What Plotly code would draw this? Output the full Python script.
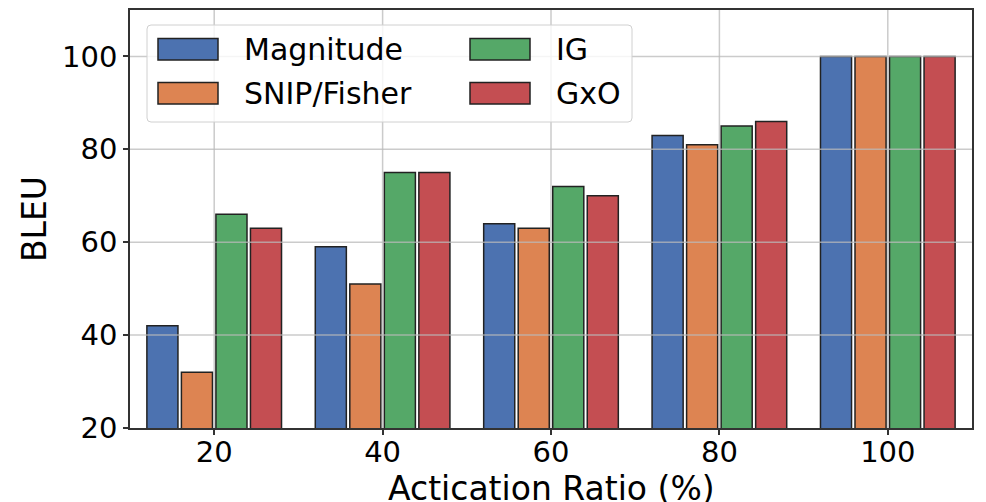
import plotly.graph_objects as go

# ---- data ----
categories = ["20", "40", "60", "80", "100"]
series_names = ["Magnitude", "SNIP/Fisher", "IG", "GxO"]
magnitude = [42, 59, 64, 83, 100]
snip_fisher = [32, 51, 63, 81, 100]
ig = [66, 75, 72, 85, 100]
gxo = [63, 75, 70, 86, 100]
y_ticks = [20, 40, 60, 80, 100]
colors = ["#4C72B0", "#DD8452", "#55A868", "#C44E52"]
x_title = "Actication Ratio (%)"
y_title = "BLEU"

series_values = [magnitude, snip_fisher, ig, gxo]

W, H = 986, 502
ML, MR, MT, MB = 130, 14, 10, 74
PW, PH = W - ML - MR, H - MT - MB
Y_RANGE = [20, 110]
FONT = "DejaVu Sans"


def px_x(p):
    return (p - ML) / PW


def px_y(p):
    return (H - MB - p) / PH


fig = go.Figure()
for name, vals, col in zip(series_names, series_values, colors):
    fig.add_trace(go.Bar(
        x=categories, y=vals, name=name, showlegend=False,
        marker=dict(color=col, line=dict(color="#222222", width=1.5)),
    ))

shapes = []
# gridlines drawn above the bars (matplotlib style)
grid_col = "rgba(185,185,185,0.75)"
for t in y_ticks:
    if Y_RANGE[0] < t < Y_RANGE[1]:
        shapes.append(dict(type="line", xref="paper", yref="y", x0=0, x1=1, y0=t, y1=t,
                           line=dict(color=grid_col, width=1.5), layer="above"))
for i, _ in enumerate(categories):
    shapes.append(dict(type="line", xref="x", yref="paper", x0=i, x1=i, y0=0, y1=1,
                       line=dict(color=grid_col, width=1.5), layer="above"))

# legend box (rounded)
bx0, bx1, by0, by1, r = 147, 632, 25, 122, 4
path = (f"M {px_x(bx0 + r)},{px_y(by0)} L {px_x(bx1 - r)},{px_y(by0)} "
        f"Q {px_x(bx1)},{px_y(by0)} {px_x(bx1)},{px_y(by0 + r)} "
        f"L {px_x(bx1)},{px_y(by1 - r)} Q {px_x(bx1)},{px_y(by1)} {px_x(bx1 - r)},{px_y(by1)} "
        f"L {px_x(bx0 + r)},{px_y(by1)} Q {px_x(bx0)},{px_y(by1)} {px_x(bx0)},{px_y(by1 - r)} "
        f"L {px_x(bx0)},{px_y(by0 + r)} Q {px_x(bx0)},{px_y(by0)} {px_x(bx0 + r)},{px_y(by0)} Z")
shapes.append(dict(type="path", xref="paper", yref="paper", path=path,
                   fillcolor="rgba(255,255,255,0.8)", line=dict(color="#d0d0d0", width=1),
                   layer="above"))

annotations = []
# legend entries: column-major, 2 columns
col_sw_x = [158, 470]
col_tx_x = [242, 554]
row_y = [(38.5, 60), (82.5, 104)]
for k, (name, col) in enumerate(zip(series_names, colors)):
    c, rr = divmod(k, 2)
    y0p, y1p = row_y[rr]
    shapes.append(dict(type="rect", xref="paper", yref="paper",
                       x0=px_x(col_sw_x[c]), x1=px_x(col_sw_x[c] + 60),
                       y0=px_y(y1p), y1=px_y(y0p),
                       fillcolor=col, line=dict(color="#222222", width=1.5), layer="above"))
    annotations.append(dict(text=name, xref="paper", yref="paper",
                            x=px_x(col_tx_x[c]), y=px_y((y0p + y1p) / 2),
                            xanchor="left", yanchor="middle", showarrow=False,
                            font=dict(family=FONT, size=30, color="black")))

# x-axis title (placed to match the reference, which is clipped at the bottom edge)
annotations.append(dict(text=x_title, xref="paper", yref="paper", x=0.5, y=px_y(488),
                        xanchor="center", yanchor="middle", showarrow=False,
                        font=dict(family=FONT, size=33, color="black")))

fig.update_layout(
    width=W, height=H,
    margin=dict(l=ML, r=MR, t=MT, b=MB, autoexpand=False),
    paper_bgcolor="white", plot_bgcolor="white",
    barmode="group", bargap=0.18, bargroupgap=0.1,
    font=dict(family=FONT, color="black"),
    shapes=shapes, annotations=annotations,
)
fig.update_xaxes(
    type="category", range=[-0.5, len(categories) - 0.5], automargin=False,
    showgrid=False, showline=True, mirror=True, linecolor="#333333", linewidth=1.5,
    ticks="outside", ticklen=5, tickwidth=1.5, tickcolor="#333333",
    tickfont=dict(family=FONT, size=29, color="black"), ticklabelstandoff=-8,
)
fig.update_yaxes(
    range=Y_RANGE, tickvals=y_ticks, ticktext=[str(t) for t in y_ticks], automargin=True,
    showgrid=False, zeroline=False, showline=True, mirror=True, linecolor="#333333", linewidth=1.5,
    ticks="outside", ticklen=5, tickwidth=1.5, tickcolor="#333333",
    tickfont=dict(family=FONT, size=29, color="black"),
    title=dict(text=y_title, font=dict(family=FONT, size=33, color="black"), standoff=6),
)

fig.write_html("out.html", post_script="document.body.style.margin='0';",
               config={"displayModeBar": False})
